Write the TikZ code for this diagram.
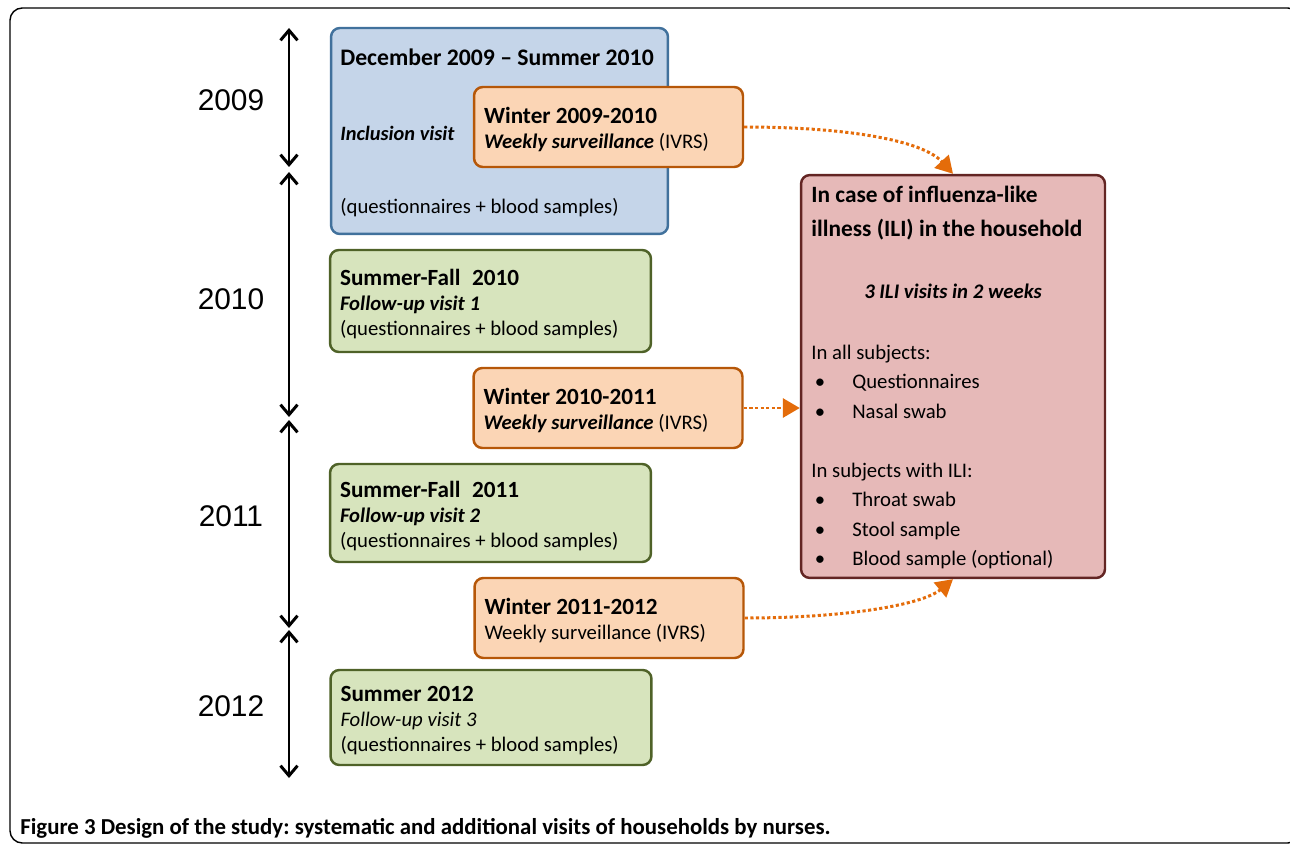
\documentclass[tikz,border=0pt]{standalone}
\usepackage{fontspec}
\setmainfont{Carlito}
\newfontfamily\yearfont{Liberation Sans}
\usetikzlibrary{arrows.meta}
\frenchspacing

\definecolor{bluefill}{HTML}{C5D5E9}
\definecolor{blueline}{HTML}{41719C}
\definecolor{orangefill}{HTML}{FBD5B5}
\definecolor{orangeline}{HTML}{B65708}
\definecolor{greenfill}{HTML}{D7E4BD}
\definecolor{greenline}{HTML}{4F6228}
\definecolor{pinkfill}{HTML}{E6B9B8}
\definecolor{pinkline}{HTML}{632523}
\definecolor{ilicol}{HTML}{E46C0A}

\newcommand{\ilibullet}{\makebox[0.82cm][l]{\hspace{2pt}\textbullet}}
\newcommand{\boxtitle}{\bfseries\fontsize{13.2}{14.2}\selectfont\rule{0pt}{12.5pt}}

\begin{document}
\begin{tikzpicture}[
    x=0.02cm, y=-0.02cm,
    box/.style={rectangle, draw, rounded corners=5pt, line width=1.4pt, inner xsep=0.2cm, align=flush left, font=\fontsize{11.8}{14.2}\selectfont},
    inclbox/.style={box, fill=bluefill, draw=blueline, minimum width=6.74cm, minimum height=4.12cm},
    winter/.style={box, fill=orangefill, draw=orangeline, minimum width=5.38cm, minimum height=1.6cm, text width=4.98cm},
    followup/.style={box, fill=greenfill, draw=greenline, minimum width=6.42cm, text width=6.02cm},
    ilibox/.style={box, fill=pinkfill, draw=pinkline, minimum width=6.08cm, minimum height=8.06cm},
    txt/.style={anchor=west, inner sep=0pt, align=left, font=\fontsize{11.8}{14.2}\selectfont},
    year/.style={font=\yearfont\fontsize{17}{20}\selectfont},
    timeline/.style={{Straight Barb[length=2mm,width=3.4mm]}-{Straight Barb[length=2mm,width=3.4mm]}, line width=1.7pt},
    iliarrow/.style={-{Triangle[length=3.4mm,width=3.8mm]}, line width=1.7pt, draw=ilicol, dash pattern=on 1.8pt off 1.4pt},
]
    \useasboundingbox (0,0) rectangle (1290,844);

    % Frame
    \draw[line width=0.8pt, rounded corners=7pt] (10,8) rectangle (1300,843);

    % Timeline
    \coordinate (t0) at (289,28);
    \coordinate (t1) at (289,167);
    \coordinate (t2) at (289,172);
    \coordinate (t3) at (289,417);
    \coordinate (t4) at (289,420);
    \coordinate (t5) at (289,628);
    \coordinate (t6) at (289,630);
    \coordinate (t7) at (289,778);
    \draw[timeline] (t0) -- (t1);
    \draw[timeline] (t2) -- (t3);
    \draw[timeline] (t4) -- (t5);
    \draw[timeline] (t6) -- (t7);

    % Years
    \node[year] (y2009) at (231,100) {2009};
    \node[year] (y2010) at (231,299) {2010};
    \node[year] (y2011) at (231,516) {2011};
    \node[year] (y2012) at (231,706) {2012};

    % Inclusion
    \node[inclbox] (incl) at (499.5,131) {};
    \node[txt, font=\bfseries\fontsize{13.5}{14.2}\selectfont] (incltitle) at (340,57) {December 2009 -- Summer 2010};
    \node[txt, font=\bfseries\itshape\fontsize{11.6}{14.2}\selectfont] (inclvisit) at (340,133) {Inclusion visit};
    \node[txt] (inclnote) at (340,208) {(questionnaires + blood samples)};

    % Winters
    \node[winter] (w1) at (608.5,127) {{\boxtitle Winter 2009-2010}\\{\bfseries\itshape Weekly surveillance} (IVRS)};
    \node[winter] (w2) at (608,408) {{\boxtitle Winter 2010-2011}\\{\bfseries\itshape Weekly surveillance} (IVRS)};
    \node[winter] (w3) at (609,618) {{\boxtitle Winter 2011-2012}\\Weekly surveillance (IVRS)};

    % Follow-up visits
    \node[followup, minimum height=2.04cm] (f1) at (490.5,301) {{\boxtitle Summer-Fall\enspace 2010}\\{\bfseries\itshape Follow-up visit 1}\\(questionnaires + blood samples)};
    \node[followup, minimum height=1.96cm] (f2) at (490.5,513) {{\boxtitle Summer-Fall\enspace 2011}\\{\bfseries\itshape Follow-up visit 2}\\(questionnaires + blood samples)};
    \node[followup, minimum height=1.9cm] (f3) at (491,717.5) {{\boxtitle Summer 2012}\\{\itshape Follow-up visit 3}\\(questionnaires + blood samples)};

    % ILI visits
    \node[ilibox] (ili) at (953,376.5) {};
    \node[txt, font=\bfseries\fontsize{13.3}{19.4}\selectfont] (ilihead) at (811,213) {In case of influenza-like\\illness (ILI) in the household};
    \node[inner sep=0pt, font=\bfseries\itshape\fontsize{11.8}{14.2}\selectfont] (ilivisits) at (953,291) {3 ILI visits in 2 weeks};
    \node[txt, font=\fontsize{11.8}{16.8}\selectfont] (allsubj) at (811,381.5) {In all subjects:\\\ilibullet Questionnaires\\\ilibullet Nasal swab};
    \node[txt, font=\fontsize{11.8}{16.7}\selectfont] (ilisubj) at (811,516) {In subjects with ILI:\\\ilibullet Throat swab\\\ilibullet Stool sample\\\ilibullet Blood sample (optional)};

    % Connections
    \draw[iliarrow] (w1.east) .. controls (845,127) and (922,140) .. (ili.north);
    \draw[iliarrow] (w2.east) -- (ili.west |- w2.east);
    \draw[iliarrow] (w3.east) .. controls (845,618) and (922,605) .. (ili.south);

    % Caption
    \node[anchor=west, inner sep=0pt, font=\bfseries\fontsize{13}{15}\selectfont] (caption) at (20,828) {Figure 3 Design of the study: systematic and additional visits of households by nurses.};
\end{tikzpicture}
\end{document}
